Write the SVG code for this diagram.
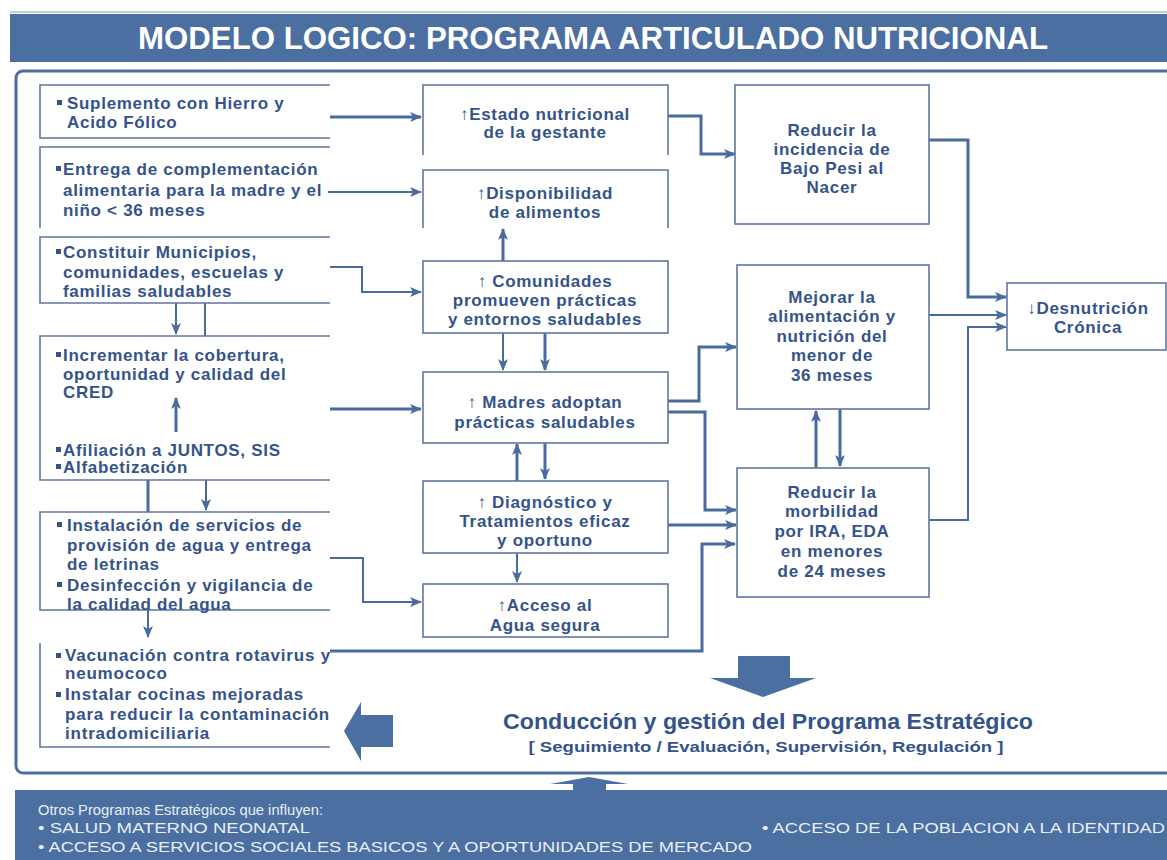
<svg xmlns="http://www.w3.org/2000/svg" width="1167" height="860" viewBox="0 0 1167 860">
<style>
.t{font-family:"Liberation Sans",Arial,sans-serif;font-weight:bold;font-size:17px;letter-spacing:0.7px;fill:#34538a}
.m{text-anchor:middle}
.box{fill:none;stroke:#5f77a3;stroke-width:1.6}
.c{fill:none;stroke:#4a6b9e;stroke-width:2}
.k{fill:none;stroke:#4a6b9e;stroke-width:3}
.b{fill:#34538a}
.ft{font-family:"Liberation Sans",Arial,sans-serif;font-size:14px;fill:#e9eef7}
</style>
<defs>
<marker id="ah" markerUnits="userSpaceOnUse" markerWidth="12" markerHeight="10" refX="11" refY="5" orient="auto">
<path d="M0,0 L12,5 L0,10 L3,5 Z" fill="#4a6b9e"/>
</marker>
</defs>
<rect width="1167" height="860" fill="#ffffff"/>
<g id="header">
<line x1="10" y1="12" x2="1167" y2="12" stroke="#a9bcd8" stroke-width="1.5"/>
<rect x="10" y="14" width="1157" height="48" fill="#4a6fa0"/>
<text x="593" y="49" text-anchor="middle" font-family="'Liberation Sans',Arial,sans-serif" font-weight="bold" font-size="31" fill="#ffffff" textLength="910" lengthAdjust="spacingAndGlyphs">MODELO LOGICO: PROGRAMA ARTICULADO NUTRICIONAL</text>
</g>
<rect id="frame" x="16" y="71" width="1170" height="702" rx="7" fill="none" stroke="#4d6d9d" stroke-width="3"/>

<g id="connectors">
<line class="k" x1="330" y1="117" x2="421" y2="117" marker-end="url(#ah)"/>
<line class="c" x1="328" y1="192" x2="421" y2="192" marker-end="url(#ah)"/>
<polyline class="c" points="330,267 362,267 362,292 421,292" marker-end="url(#ah)"/>
<line class="k" x1="330" y1="409" x2="421" y2="409" marker-end="url(#ah)"/>
<polyline class="c" points="330,558 363,558 363,602 421,602" marker-end="url(#ah)"/>
<polyline class="k" points="330,651 702,651 702,544 735,544" marker-end="url(#ah)"/>
<line class="c" x1="176" y1="303" x2="176" y2="334" marker-end="url(#ah)"/>
<line class="c" x1="205" y1="303" x2="205" y2="336"/>
<line class="k" x1="176" y1="432" x2="176" y2="398" marker-end="url(#ah)"/>
<line class="k" x1="148" y1="480" x2="148" y2="512"/>
<line class="c" x1="206" y1="480" x2="206" y2="510" marker-end="url(#ah)"/>
<line class="c" x1="148" y1="610" x2="148" y2="637" marker-end="url(#ah)"/>
<line class="k" x1="503" y1="261" x2="503" y2="229" marker-end="url(#ah)"/>
<line class="c" x1="503" y1="333" x2="503" y2="370" marker-end="url(#ah)"/>
<line class="k" x1="545" y1="333" x2="545" y2="370" marker-end="url(#ah)"/>
<line class="k" x1="517" y1="481" x2="517" y2="444" marker-end="url(#ah)"/>
<line class="k" x1="545" y1="443" x2="545" y2="479" marker-end="url(#ah)"/>
<line class="c" x1="517" y1="553" x2="517" y2="582" marker-end="url(#ah)"/>
<polyline class="k" points="668,116 701,116 701,154 735,154" marker-end="url(#ah)"/>
<polyline class="k" points="668,401 699,401 699,347 736,347" marker-end="url(#ah)"/>
<polyline class="k" points="668,412 705,412 705,510 736,510" marker-end="url(#ah)"/>
<line class="k" x1="668" y1="525" x2="736" y2="525" marker-end="url(#ah)"/>
<line class="k" x1="816" y1="468" x2="816" y2="411" marker-end="url(#ah)"/>
<line class="k" x1="840" y1="409" x2="840" y2="466" marker-end="url(#ah)"/>
<polyline class="k" points="929,140 968,140 968,297 1006,297" marker-end="url(#ah)"/>
<line class="c" x1="929" y1="315" x2="1006" y2="315" marker-end="url(#ah)"/>
<polyline class="c" points="929,520 968,520 968,327 1006,327" marker-end="url(#ah)"/>
</g>

<g id="n1">
<path class="box" d="M330,85 H40 V138 H330"/>
<rect class="b" x="57" y="100" width="5" height="5"/>
<text class="t" x="67" y="109">Suplemento con Hierro y</text>
<text class="t" x="67" y="128">Acido Fólico</text>
</g>
<g id="n2">
<path class="box" d="M330,147 H40 V228"/>
<rect class="b" x="56" y="166" width="5" height="5"/>
<text class="t" x="63" y="175">Entrega de complementación</text>
<text class="t" x="63" y="196">alimentaria para la madre y el</text>
<text class="t" x="63" y="216">niño &lt; 36 meses</text>
</g>
<g id="n3">
<path class="box" d="M330,237 H40 V303 H330"/>
<rect class="b" x="56" y="249" width="5" height="5"/>
<text class="t" x="63" y="258">Constituir Municipios,</text>
<text class="t" x="63" y="278">comunidades, escuelas y</text>
<text class="t" x="63" y="297">familias saludables</text>
</g>
<g id="n4">
<path class="box" d="M330,336 H40 V480 H330"/>
<rect class="b" x="56" y="352" width="5" height="5"/>
<text class="t" x="63" y="361">Incrementar la cobertura,</text>
<text class="t" x="63" y="380">oportunidad y calidad del</text>
<text class="t" x="63" y="398">CRED</text>
<rect class="b" x="56" y="447" width="5" height="5"/>
<text class="t" x="63" y="456">Afiliación a JUNTOS, SIS</text>
<rect class="b" x="56" y="464" width="5" height="5"/>
<text class="t" x="63" y="473">Alfabetización</text>
</g>
<g id="n5">
<path class="box" d="M330,512 H40 V610 H330"/>
<rect class="b" x="57" y="522" width="5" height="5"/>
<text class="t" x="67" y="531">Instalación de servicios de</text>
<text class="t" x="67" y="551">provisión de agua y entrega</text>
<text class="t" x="67" y="570">de letrinas</text>
<rect class="b" x="57" y="582" width="5" height="5"/>
<text class="t" x="67" y="591">Desinfección y vigilancia de</text>
<text class="t" x="67" y="610">la calidad del agua</text>
</g>
<g id="n6">
<path class="box" d="M40,643 V747 H330"/>
<rect class="b" x="56" y="653" width="5" height="5"/>
<text class="t" x="65" y="661" style="letter-spacing:0.8px">Vacunación contra rotavirus y</text>
<text class="t" x="65" y="679" style="letter-spacing:0.8px">neumococo</text>
<rect class="b" x="56" y="692" width="5" height="5"/>
<text class="t" x="65" y="700" style="letter-spacing:0.8px">Instalar cocinas mejoradas</text>
<text class="t" x="65" y="720" style="letter-spacing:0.8px">para reducir la contaminación</text>
<text class="t" x="65" y="739" style="letter-spacing:0.8px">intradomiciliaria</text>
</g>

<g id="nA">
<path class="box" d="M423,155 V85 H668 V155"/>
<text class="t m" x="545" y="120">↑Estado nutricional</text>
<text class="t m" x="545" y="138">de la gestante</text>
</g>
<g id="nB">
<path class="box" d="M423,228 V170 H668 V228"/>
<text class="t m" x="545" y="199">↑Disponibilidad</text>
<text class="t m" x="545" y="218">de alimentos</text>
</g>
<g id="nC">
<rect class="box" x="423" y="261" width="245" height="72"/>
<text class="t m" x="545" y="287">↑ Comunidades</text>
<text class="t m" x="545" y="306">promueven prácticas</text>
<text class="t m" x="545" y="325">y entornos saludables</text>
</g>
<g id="nD">
<rect class="box" x="423" y="372" width="245" height="71"/>
<text class="t m" x="545" y="408">↑ Madres adoptan</text>
<text class="t m" x="545" y="428">prácticas saludables</text>
</g>
<g id="nE">
<rect class="box" x="423" y="481" width="245" height="72"/>
<text class="t m" x="545" y="508">↑ Diagnóstico y</text>
<text class="t m" x="545" y="527">Tratamientos eficaz</text>
<text class="t m" x="545" y="546">y oportuno</text>
</g>
<g id="nF">
<rect class="box" x="423" y="584" width="245" height="53"/>
<text class="t m" x="545" y="611">↑Acceso al</text>
<text class="t m" x="545" y="631">Agua segura</text>
</g>

<g id="nG">
<rect class="box" x="735" y="85" width="194" height="139"/>
<text class="t m" x="832" y="136">Reducir la</text>
<text class="t m" x="832" y="155">incidencia de</text>
<text class="t m" x="832" y="174">Bajo Pesi al</text>
<text class="t m" x="832" y="193">Nacer</text>
</g>
<g id="nH">
<rect class="box" x="737" y="265" width="192" height="144"/>
<text class="t m" x="832" y="303">Mejorar la</text>
<text class="t m" x="832" y="322">alimentación y</text>
<text class="t m" x="832" y="342">nutrición del</text>
<text class="t m" x="832" y="361">menor de</text>
<text class="t m" x="832" y="381">36 meses</text>
</g>
<g id="nI">
<rect class="box" x="737" y="468" width="192" height="129"/>
<text class="t m" x="832" y="498">Reducir la</text>
<text class="t m" x="832" y="517">morbilidad</text>
<text class="t m" x="832" y="537">por IRA, EDA</text>
<text class="t m" x="832" y="557">en menores</text>
<text class="t m" x="832" y="577">de 24 meses</text>
</g>
<g id="nJ">
<rect class="box" x="1007" y="283" width="159" height="67"/>
<text class="t m" x="1088" y="314">↓Desnutrición</text>
<text class="t m" x="1088" y="333">Crónica</text>
</g>

<g id="conduccion">
<path d="M738,656 H790 V678 H816 L763,697 L710,678 H738 Z" fill="#4a6fa0"/>
<path d="M393,715 V747 H361 V761 L344,731 L361,702 V715 Z" fill="#4a6fa0"/>
<text x="768" y="729" text-anchor="middle" font-family="'Liberation Sans',Arial,sans-serif" font-weight="bold" font-size="22" fill="#34538a" textLength="530" lengthAdjust="spacingAndGlyphs">Conducción y gestión del Programa Estratégico</text>
<text x="766" y="752" text-anchor="middle" font-family="'Liberation Sans',Arial,sans-serif" font-weight="bold" font-size="15.5" fill="#34538a" textLength="475" lengthAdjust="spacingAndGlyphs">[ Seguimiento / Evaluación, Supervisión, Regulación ]</text>
</g>

<g id="footer">
<path d="M573,792 V784 H550 L589,777 L628,784 H606 V792 Z" fill="#4a6fa0"/>
<rect x="15" y="790" width="1152" height="70" fill="#4a6fa0"/>
<text class="ft" x="38" y="815" textLength="285" lengthAdjust="spacingAndGlyphs">Otros Programas Estratégicos que influyen:</text>
<text class="ft" x="38" y="833" textLength="272" lengthAdjust="spacingAndGlyphs">• SALUD MATERNO NEONATAL</text>
<text class="ft" x="762" y="833" textLength="403" lengthAdjust="spacingAndGlyphs">• ACCESO DE LA POBLACION A LA IDENTIDAD</text>
<text class="ft" x="38" y="852" textLength="714" lengthAdjust="spacingAndGlyphs">• ACCESO A SERVICIOS SOCIALES BASICOS Y A OPORTUNIDADES DE MERCADO</text>
</g>
</svg>
